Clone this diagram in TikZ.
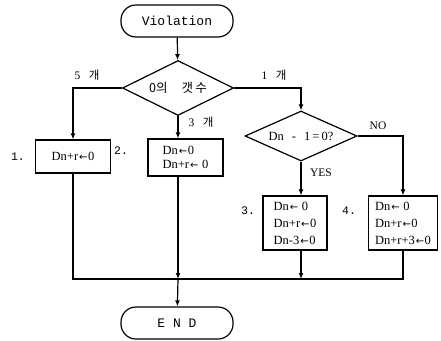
\documentclass[tikz,border=0pt]{standalone}
\usepackage{fontspec}
\setmainfont{Liberation Serif}
\setmonofont{Liberation Mono}
\newfontfamily\kor{Noto Sans CJK KR}
\newfontfamily\arrfont{DejaVu Sans}
\newcommand{\lar}{\hspace{1pt}{\arrfont\fontsize{10}{10}\selectfont ←}\hspace{0.5pt}}
\usetikzlibrary{shapes.geometric,arrows.meta}

\begin{document}
\begin{tikzpicture}[x=1pt,y=-1pt,line width=1.2pt,
  term/.style={draw,rounded corners=15pt,minimum width=112pt,minimum height=32pt,
    font=\ttfamily\fontsize{13}{15}\selectfont},
  dec/.style={draw,diamond,inner sep=0pt,aspect=2.4,minimum width=111pt,minimum height=55pt,
    font=\fontsize{12.5}{14}\selectfont},
  proc/.style={draw,rectangle,align=left,inner sep=2pt,
    font=\fontsize{12.5}{17}\selectfont},
  arr/.style={-{Latex[length=6pt,width=5pt]}},
  lbl/.style={font=\fontsize{11.5}{13}\selectfont,inner sep=1pt},
  num/.style={font=\ttfamily\fontsize{11.5}{13}\selectfont,inner sep=1pt}]
\useasboundingbox (0,0) rectangle (441,340);

% terminals and decisions
\node[term] (start) at (177,21) {Violation};
\node[dec] (d1) at (178,88) {{\kor 0의}\hspace{14pt}{\kor 갯\,수}};
\node[dec,minimum width=112pt,minimum height=50pt] (d2) at (301,136)
  {Dn\hspace{8pt}-\hspace{8pt}1\,=\,0?};

% process boxes
\node[proc,minimum width=75pt,minimum height=33pt] (b1) at (73,156.5) {Dn+r\lar0};
\node[proc,minimum width=75pt,minimum height=37pt,font=\fontsize{12.5}{14}\selectfont]
  (b2) at (185.5,157.5) {Dn\lar0\\Dn+r\lar\ 0};
\node[proc,minimum width=64pt,minimum height=54pt] (b3) at (295,223) {Dn\lar\ 0\\Dn+r\lar0\\Dn-3\lar0};
\node[proc,minimum width=69pt,minimum height=54pt] (b4) at (403,223) {Dn\lar\ 0\\Dn+r\lar0\\Dn+r+3\lar0};

\node[term] (end) at (177,323) {E N D};

% box numbers
\node[num] (k1) at (18,157) {1.};
\node[num] (k2) at (121,151) {2.};
\node[num] (k3) at (248,211) {3.};
\node[num] (k4) at (349,211) {4.};

% branch labels
\node[lbl] (n5) at (87,75) {5\ \ \ {\kor 개}};
\node[lbl] (n1) at (274,75) {1\ \ \ {\kor 개}};
\node[lbl] (n3) at (201,122) {3\ \ \ {\kor 개}};
\node[lbl] (yes) at (321,173) {YES};
\node[lbl] (nolbl) at (378,126) {NO};

% routing points
\coordinate (l5) at (73,88);
\coordinate (r1) at (301,88);
\coordinate (nr) at (403,136);
\coordinate (m) at (178,279);

% connectors
\draw[arr] (start) -- (d1);
\draw[arr] (d1.west) -- (l5) -- (b1.north);
\draw[arr] (d1.south) -- (b2.north -| d1.south);
\draw[arr] (d1.east) -- (r1) -- (d2.north);
\draw[arr] (d2.east) -- (nr) -- (b4.north);
\draw[arr] (d2.south) -- (b3.north -| d2.south);

\draw (b1.south) |- (b4.south |- m) -- (b4.south);
\draw[arr] (b2.south -| m) -- (m);
\draw[arr] (b3.south -| d2.south) -- (d2.south |- m);
\draw[arr] (m) -- (end);
\end{tikzpicture}
\end{document}
